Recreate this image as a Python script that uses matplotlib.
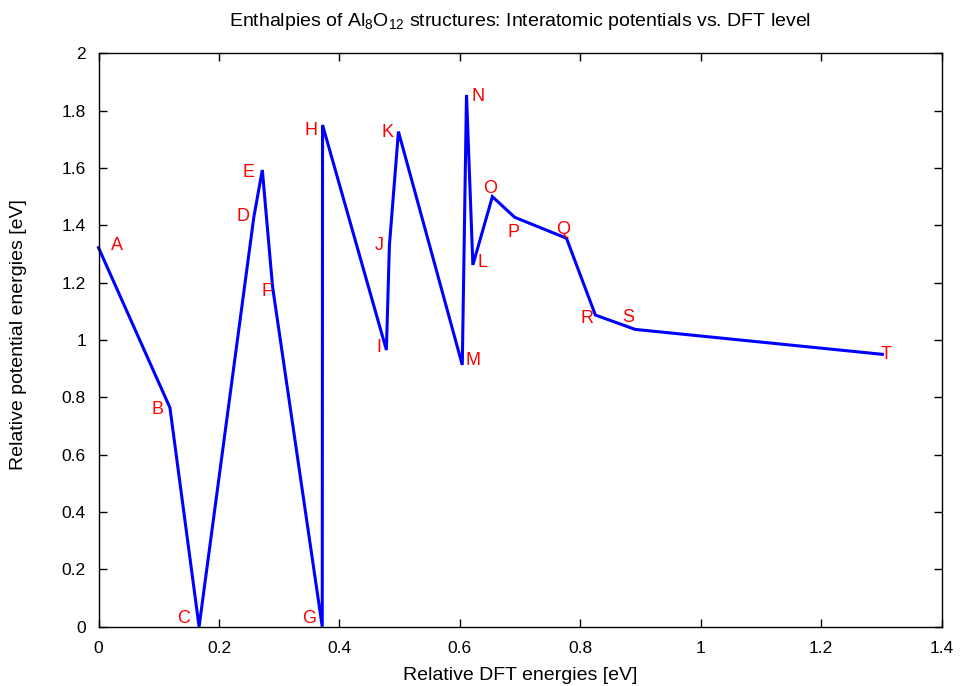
import matplotlib
matplotlib.use("Agg")
import matplotlib.pyplot as plt

plt.rcParams['font.family'] = ['Liberation Sans', 'DejaVu Sans']
plt.rcParams['mathtext.default'] = 'regular'

labels = list("ABCDEFGHIJKLMNOPQRST")
dft = [0.0, 0.1186, 0.167, 0.258, 0.272, 0.289, 0.3715, 0.372, 0.478, 0.483,
       0.498, 0.6216, 0.604, 0.611, 0.654, 0.691, 0.777, 0.825, 0.891, 1.3015]
pot = [1.322, 0.764, 0.0, 1.43, 1.593, 1.186, 0.0, 1.75, 0.965, 1.33,
       1.727, 1.262, 0.913, 1.855, 1.50, 1.428, 1.355, 1.087, 1.037, 0.950]
# line drawn in order of DFT energy
order = ["A", "B", "C", "D", "E", "F", "G", "H", "I", "J", "K", "M", "N", "L",
         "O", "P", "Q", "R", "S", "T"]
xticks = [0, 0.2, 0.4, 0.6, 0.8, 1, 1.2, 1.4]
yticks = [0, 0.2, 0.4, 0.6, 0.8, 1, 1.2, 1.4, 1.6, 1.8, 2]

# label offsets in pixels (style)
offs = {"A": (18, 2), "B": (-12, -2), "C": (-16, 8), "D": (-11, 0), "E": (-14, -3),
        "F": (-6, -5), "G": (-13, 8), "H": (-12, -6), "I": (-8, 3), "J": (-10, 0),
        "K": (-11, -1), "L": (10, 2), "M": (11, 4), "N": (12, -2), "O": (-2, 8),
        "P": (-1, -15), "Q": (-3, 9), "R": (-8, -3), "S": (-7, 12), "T": (4, 0)}

W, H = 960, 686
fig = plt.figure(figsize=(9.6, 6.86), dpi=100)
ax = fig.add_axes([98.5/W, 1-626.7/H, (941.7-98.5)/W, (626.7-53.3)/H])

idx = {l: i for i, l in enumerate(labels)}
xs = [dft[idx[l]] for l in order]
ys = [pot[idx[l]] for l in order]
ax.plot(xs, ys, color='#0000ff', lw=2.2, clip_on=False, solid_joinstyle='miter')

for l, x, y in zip(labels, dft, pot):
    ax.annotate(l, (x, y), xytext=offs[l], textcoords='offset pixels',
                color='#ff0000', fontsize=13, ha='center', va='center')

ax.set_xlim(0, 1.4)
ax.set_ylim(0, 2)
ax.set_xticks(xticks)
ax.set_xticklabels([f"{t:g}" for t in xticks])
ax.set_yticks(yticks)
ax.set_yticklabels([f"{t:g}" for t in yticks])
ax.tick_params(direction='in', length=6, width=1, top=True, right=True,
               labelsize=12.5, colors='black')
ax.tick_params(axis='x', pad=10)
ax.tick_params(axis='y', pad=9)
for s in ax.spines.values():
    s.set_linewidth(1)
    s.set_color('black')

fig.text(520/W, 1-676/H, "Relative DFT energies [eV]", fontsize=14,
         ha='center', va='center')
fig.text(19/W, 1-335/H, "Relative potential energies [eV]", fontsize=14,
         ha='center', va='center', rotation=90)
fig.text(520/W, 1-22/H,
         "Enthalpies of Al$_8$O$_{12}$ structures: Interatomic potentials vs. DFT level",
         fontsize=14, ha='center', va='center')

fig.savefig("out.png", dpi=100)
